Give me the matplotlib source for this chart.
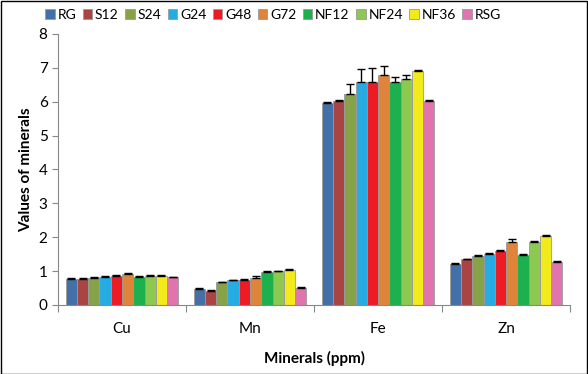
import numpy as np
import matplotlib.pyplot as plt
from matplotlib.patches import Patch

plt.rcParams['font.family'] = ['Lato', 'DejaVu Sans']

minerals = ["Cu", "Mn", "Fe", "Zn"]
groups = ["RG", "S12", "S24", "G24", "G48", "G72", "NF12", "NF24", "NF36", "RSG"]
colors = ["#4470A8", "#A84444", "#88A24A", "#26ACE2", "#EC1C24", "#E0843C",
          "#1DB04F", "#8DC850", "#F3EA1B", "#E074AF"]

# values per group, order: Cu, Mn, Fe, Zn
values = {
    "RG":   [0.77, 0.47, 5.97, 1.21],
    "S12":  [0.78, 0.42, 6.03, 1.35],
    "S24":  [0.80, 0.67, 6.24, 1.46],
    "G24":  [0.83, 0.73, 6.57, 1.52],
    "G48":  [0.86, 0.75, 6.58, 1.60],
    "G72":  [0.91, 0.79, 6.78, 1.87],
    "NF12": [0.83, 0.97, 6.57, 1.47],
    "NF24": [0.87, 0.99, 6.68, 1.87],
    "NF36": [0.87, 1.04, 6.90, 2.05],
    "RSG":  [0.82, 0.51, 6.01, 1.27],
}
errors = {
    "RG":   [0.02, 0.02, 0.02, 0.02],
    "S12":  [0.02, 0.02, 0.02, 0.02],
    "S24":  [0.02, 0.02, 0.27, 0.03],
    "G24":  [0.02, 0.02, 0.41, 0.02],
    "G48":  [0.02, 0.02, 0.41, 0.02],
    "G72":  [0.02, 0.08, 0.27, 0.07],
    "NF12": [0.02, 0.02, 0.15, 0.03],
    "NF24": [0.02, 0.02, 0.10, 0.03],
    "NF36": [0.02, 0.02, 0.03, 0.03],
    "RSG":  [0.02, 0.02, 0.03, 0.02],
}

fig = plt.figure(figsize=(5.88, 3.74), dpi=100)
ax = fig.add_axes([0.0986, 0.1845, 0.871, 0.7246])

x = np.arange(len(minerals))
width = 0.088
n = len(groups)
for i, g in enumerate(groups):
    pos = x + (i - (n - 1) / 2) * width
    ax.bar(pos, values[g], width, color=colors[i], edgecolor="#9A9A9A", linewidth=0.6,
           yerr=[[0] * len(minerals), errors[g]], capsize=3,
           error_kw=dict(ecolor="black", elinewidth=1, capthick=1))

ax.set_xlim(-0.5, 3.5)
ax.set_ylim(0, 8)
ax.set_yticks(range(0, 9))
ax.tick_params(axis="y", labelsize=11, color="#888888", length=4)
ax.set_xticks(np.arange(-0.5, 3.6, 1))
ax.set_xticklabels([])
ax.set_xticks(x, minor=True)
ax.set_xticklabels(minerals, minor=True, fontsize=11)
ax.tick_params(axis="x", which="major", color="#888888", length=5)
ax.tick_params(axis="x", which="minor", length=0, pad=12)

for s in ["top", "right"]:
    ax.spines[s].set_visible(False)
for s in ["left", "bottom"]:
    ax.spines[s].set_color("#888888")

ax.set_ylabel("Values of minerals", fontsize=11, fontweight="bold")
ax.set_xlabel("Minerals (ppm)", fontsize=11, fontweight="bold", labelpad=11)

handles = [Patch(facecolor=c, edgecolor="#9A9A9A", linewidth=0.6) for c in colors]
fig.legend(handles, groups, ncol=10, loc="center", bbox_to_anchor=(273 / 588, 1 - 15 / 374),
           frameon=False, fontsize=10, handlelength=0.7, handleheight=0.7,
           handletextpad=0.2, columnspacing=0.45, borderaxespad=0, borderpad=0)

fig.patches.append(plt.Rectangle((0.001, 0.001), 0.997, 0.997, transform=fig.transFigure,
                                 fill=False, edgecolor="black", linewidth=1))

fig.savefig("out.png", dpi=100)
